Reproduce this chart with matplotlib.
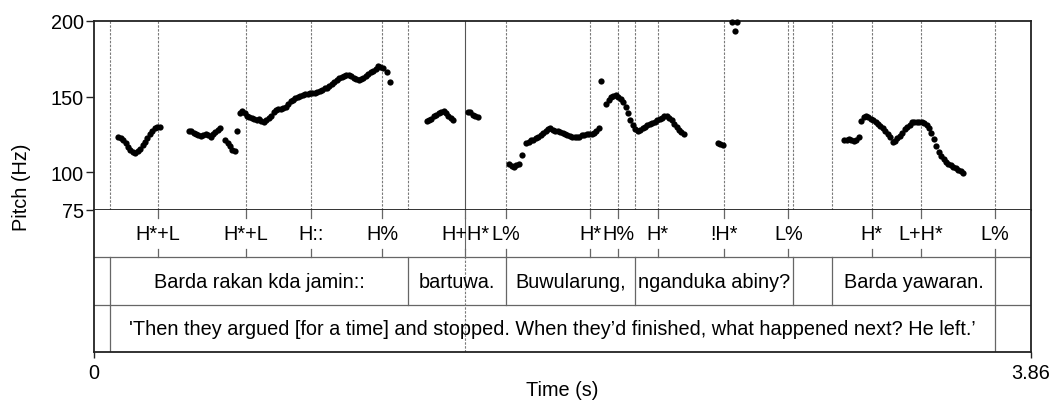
import matplotlib
matplotlib.use("Agg")
import matplotlib.pyplot as plt

plt.rcParams['font.family'] = ['Liberation Sans', 'DejaVu Sans']

# ---------------- data ----------------
# pitch contour segments (time s, pitch Hz)
seg1_t = [0.10, 0.11, 0.12, 0.13, 0.14, 0.15, 0.16, 0.17, 0.18, 0.19, 0.20, 0.21, 0.22, 0.23, 0.24, 0.25, 0.26, 0.27]
seg1_f = [123.5, 122.5, 121, 119, 116.5, 114.5, 113.5, 113, 114, 115.5, 118, 120, 122.5, 125, 127, 129, 130, 130]

seg2_t = [0.39, 0.40, 0.41, 0.42, 0.43, 0.44, 0.45, 0.46, 0.47, 0.48, 0.49, 0.50, 0.51, 0.52,
          0.54, 0.55, 0.56, 0.57, 0.58, 0.59]
seg2_f = [127.5, 127, 126, 125, 124.5, 124, 124.5, 125, 124.5, 123.5, 125.5, 126.5, 128, 129,
          121, 119, 117, 115, 114, 127.5]

seg3_t = [0.60, 0.61, 0.62, 0.63, 0.64, 0.65, 0.66, 0.67, 0.68, 0.69, 0.70, 0.71, 0.72, 0.73, 0.74,
          0.75, 0.76, 0.77, 0.78, 0.79, 0.80, 0.81, 0.82, 0.83, 0.84, 0.85, 0.86, 0.87, 0.88, 0.89,
          0.90, 0.91, 0.92, 0.93, 0.94, 0.95, 0.96, 0.97, 0.98, 0.99, 1.00, 1.01, 1.02, 1.03, 1.04,
          1.05, 1.06, 1.07, 1.08, 1.09, 1.10, 1.11, 1.12, 1.13, 1.14, 1.15, 1.16, 1.17, 1.18, 1.19,
          1.205, 1.22]
seg3_f = [139, 140.5, 139, 137.5, 136.5, 136, 135, 134.5, 135, 134, 133.5, 134.5, 136, 137.5, 139.5,
          141, 142, 142, 142.5, 143, 145, 147, 148, 149, 150, 150.5, 151, 151.5, 152, 152.2,
          152.5, 152.5, 152.8, 153.5, 154.5, 155.5, 156, 157, 158.5, 159.5, 161, 162, 163, 163.5, 164,
          164, 163.5, 162.5, 161.5, 161, 161.5, 162.5, 163.5, 165, 166, 167, 168.5, 170, 169.5, 169,
          166, 159.5]

seg4_t = [1.37, 1.38, 1.39, 1.40, 1.41, 1.42, 1.43, 1.44, 1.45, 1.46, 1.47, 1.48,
          1.54, 1.55, 1.56, 1.57, 1.58]
seg4_f = [134, 134.5, 135.5, 137, 138, 139, 140, 140.5, 139, 137.5, 136, 134.5,
          140, 139.5, 138, 137, 136.5]

seg5_t = [1.71, 1.72, 1.73, 1.74, 1.75, 1.765,
          1.78, 1.79, 1.80, 1.81, 1.82, 1.83, 1.84, 1.85, 1.86, 1.87, 1.88, 1.89, 1.90, 1.91, 1.92,
          1.93, 1.94, 1.95, 1.96, 1.97, 1.98, 1.99, 2.00, 2.01, 2.02, 2.03, 2.04, 2.05, 2.06, 2.07, 2.08,
          2.09,
          2.11, 2.12, 2.13, 2.14, 2.15, 2.16, 2.17, 2.18, 2.19, 2.20, 2.21, 2.22, 2.23, 2.24, 2.25,
          2.26, 2.27, 2.28, 2.29, 2.30, 2.31, 2.32, 2.33, 2.34, 2.35, 2.36, 2.37, 2.38, 2.39, 2.40,
          2.41, 2.42, 2.43]
seg5_f = [105.5, 104, 103.5, 104.5, 105.5, 111.5,
          119.5, 120, 121, 121.5, 122.5, 123.5, 124.5, 126, 127, 128.5, 129, 128, 127.5, 127, 126.5,
          126, 125, 124.5, 124, 123.5, 123, 123, 123.5, 124.5, 124.5, 125, 125.5, 125.5, 126, 127.5, 129,
          160,
          145, 147.5, 149.5, 150.5, 151, 150, 148.5, 146.5, 143, 139, 134.5, 131, 128.5, 127.5, 128,
          129, 130, 131, 132, 132.5, 133.5, 134.5, 135, 136, 137, 137, 136, 134.5, 132, 130,
          128, 126.5, 125.5]

seg6_t = [2.57, 2.58, 2.59, 2.63, 2.64, 2.65]
seg6_f = [119, 118.5, 118, 199.3, 193.5, 199.6]

seg7_t = [3.09, 3.10, 3.11, 3.12, 3.13, 3.14, 3.15,
          3.16, 3.17, 3.18, 3.19, 3.20, 3.21, 3.22, 3.23, 3.24, 3.25, 3.26, 3.27, 3.28, 3.29, 3.30,
          3.31, 3.32, 3.33, 3.34, 3.35, 3.36, 3.37, 3.38, 3.39, 3.40, 3.41, 3.42, 3.43, 3.44, 3.45,
          3.46, 3.47, 3.48, 3.49, 3.50, 3.51, 3.52, 3.53, 3.54, 3.55, 3.56, 3.57, 3.58]
seg7_f = [121, 121.5, 122, 121, 120.5, 121.5, 123,
          134, 136.5, 137, 136.5, 135.5, 134.5, 133.5, 132, 130.5, 129, 127.5, 125.5, 123, 120, 120.5,
          122.5, 124, 126, 128.5, 130, 131.5, 133, 133.5, 133.5, 133.5, 133.5, 132.5, 131.5, 129.5, 126,
          122, 117, 113.5, 110.5, 108.5, 107, 105.5, 104.5, 103.5, 102.5, 101.5, 100.5, 99.5]

# tone tier (points)
tone_times = [0.264, 0.626, 0.894, 1.187, 1.530, 1.696, 2.044, 2.160, 2.323, 2.595, 2.861, 3.204, 3.405, 3.712]
tone_labels = ["H*+L", "H*+L", "H::", "H%", "H+H*", "L%", "H*", "H%", "H*", "!H*", "L%", "H*", "L+H*", "L%"]

# word tier (intervals)
word_bounds = [0.066, 1.293, 1.696, 2.228, 2.881, 3.042, 3.712]
word_labels = ["", "Barda rakan kda jamin::", "bartuwa.", "Buwularung,", "nganduka abiny?", "",
               "Barda yawaran.", ""]

# translation tier (intervals)
trans_bounds = [0.066, 3.712]
trans_labels = ["", "'Then they argued [for a time] and stopped. When they\u2019d finished, what happened next? He left.\u2019", ""]

cursor_time = 1.530
t_min, t_max = 0.0, 3.86
f_min, f_max = 75, 200
pitch_ticks = [75, 100, 150, 200]

# ---------------- figure ----------------
W, H = 1054, 406
fig = plt.figure(figsize=(W / 100, H / 100), dpi=100)

left, right = 94, 1031
top_pitch, bot_pitch, bot_all = 22, 211, 353

ax = fig.add_axes([left / W, 1 - bot_pitch / H, (right - left) / W, (bot_pitch - top_pitch) / H])
axt = fig.add_axes([left / W, 1 - bot_all / H, (right - left) / W, (bot_all - bot_pitch) / H])

FS = 14.3
dark = '#222222'
grey = '#7a7a7a'
dot_style = dict(color=grey, lw=0.8, linestyle=(0, (2.2, 1.3)))

# pitch axes
ax.set_xlim(t_min, t_max)
ax.set_ylim(f_min, f_max)
ax.set_xticks([])
ax.set_yticks(pitch_ticks)
ax.set_yticklabels([str(v) for v in pitch_ticks])
ax.tick_params(axis='y', length=6, width=1, color=dark, labelsize=FS, pad=1.5)
for s in ax.spines.values():
    s.set_color(dark)
    s.set_linewidth(1.3)

vlines_pitch = sorted(set(tone_times + word_bounds) - {cursor_time})
for t in vlines_pitch:
    ax.axvline(t, **dot_style, zorder=1)
ax.axvline(cursor_time, color='#555555', lw=0.8, zorder=1)

for tt, ff in [(seg1_t, seg1_f), (seg2_t, seg2_f), (seg3_t, seg3_f), (seg4_t, seg4_f),
               (seg5_t, seg5_f), (seg6_t, seg6_f), (seg7_t, seg7_f)]:
    ax.plot(tt, ff, 'o', color='black', ms=4.5, mew=0, zorder=3, clip_on=False)

# tier axes
axt.set_xlim(t_min, t_max)
axt.set_ylim(0, 3)
axt.set_yticks([])
axt.set_xticks([t_min, t_max])
axt.set_xticklabels(['0', '3.86'])
axt.tick_params(axis='x', length=4, width=1, color=dark, labelsize=FS, pad=4)
for name, s in axt.spines.items():
    s.set_color(dark)
    s.set_linewidth(1.3)
axt.spines['top'].set_visible(False)

sep_color = '#666666'
axt.axhline(2, color=sep_color, lw=0.9)
axt.axhline(1, color=sep_color, lw=0.9)

# tone tier points
tick_h = 0.17
for t, lab in zip(tone_times, tone_labels):
    axt.plot([t, t], [3, 3 - tick_h], color=sep_color, lw=0.9)
    axt.plot([t, t], [2, 2 + tick_h], color=sep_color, lw=0.9)
    axt.text(t, 2.5, lab, ha='center', va='center', fontsize=FS)

# word tier
for b in word_bounds:
    axt.plot([b, b], [1, 2], color=sep_color, lw=0.9)
wb = [t_min] + word_bounds + [t_max]
for i, lab in enumerate(word_labels):
    if lab:
        axt.text((wb[i] + wb[i + 1]) / 2, 1.5, lab, ha='center', va='center', fontsize=FS)

# translation tier
for b in trans_bounds:
    axt.plot([b, b], [0, 1], color=sep_color, lw=0.9)
tb = [t_min] + trans_bounds + [t_max]
for i, lab in enumerate(trans_labels):
    if lab:
        axt.text((tb[i] + tb[i + 1]) / 2, 0.5, lab, ha='center', va='center', fontsize=FS)

# cursor line through tiers
axt.plot([cursor_time, cursor_time], [0, 2], **dot_style)
axt.plot([cursor_time, cursor_time], [2 + tick_h, 3 - tick_h], color=sep_color, lw=0.8)

fig.text(22 / W, 1 - 187 / H, 'Pitch (Hz)', rotation=90, ha='center', va='center', fontsize=FS)
fig.text((left + right) / 2 / W, 1 - 391 / H, 'Time (s)', ha='center', va='center', fontsize=FS)

fig.savefig('out.png', dpi=100)
